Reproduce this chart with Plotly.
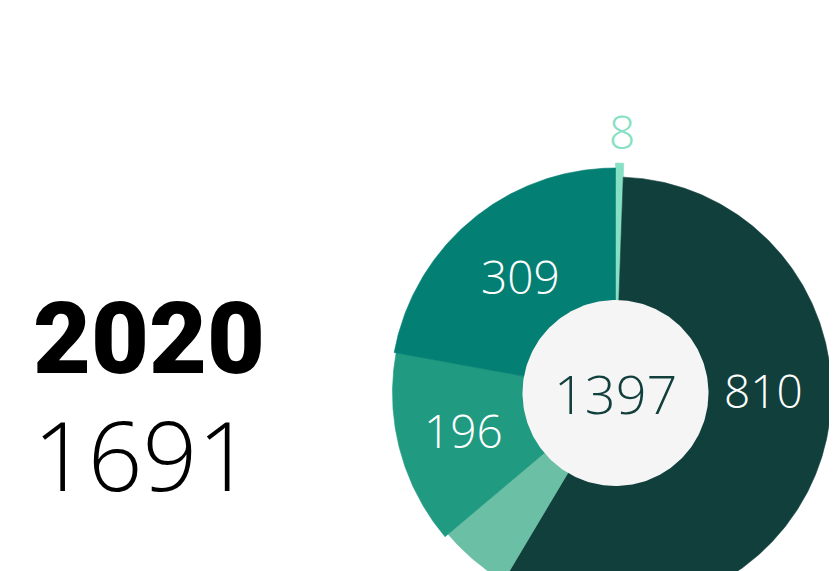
import numpy as np
import plotly.graph_objects as go

# ---- data ----
categories = ["A", "B", "C", "D", "E"]
values = [8, 810, 74, 196, 309]
total_label = "1397"
year_label = "2020"
year_value = "1691"

# ---- styles ----
colors = ["#86e0c3", "#113f3c", "#6bbfa5", "#209a80", "#037f73"]
outer_r = [230, 216, 219, 223, 225]
label_colors = ["#86e0c3", "#ffffff", "#ffffff", "#ffffff", "#ffffff"]
label_show = [True, True, False, True, True]
label_r = [259, 148, 150, 157, 149]
label_angle_override = {1: 90.0, 0: 1.5}
LABEL_DY = 3
HOLE_R = 93
W, H = 837, 571
OFF = 8  # page body margin
CX, CY = 615.5 - OFF, 393 - OFF  # pixel centre of the donut within the figure

fig = go.Figure()

vals = np.array(values, dtype=float)
ends = np.cumsum(vals) / vals.sum() * 360.0
starts = np.concatenate([[0.0], ends[:-1]])

def pt(r, deg):
    a = np.deg2rad(deg)
    return r * np.sin(a), r * np.cos(a)

for i, v in enumerate(values):
    th = np.linspace(starts[i], ends[i], max(4, int((ends[i] - starts[i]) * 2)))
    xo, yo = pt(outer_r[i], th)
    xi, yi = pt(HOLE_R - 2, th[::-1])
    xs = np.concatenate([xo, xi, xo[:1]])
    ys = np.concatenate([yo, yi, yo[:1]])
    fig.add_trace(go.Scatter(x=xs, y=ys, fill="toself", mode="lines",
                             line=dict(width=0.6, color=colors[i]),
                             fillcolor=colors[i], hoverinfo="skip",
                             showlegend=False))

# centre disc
thc = np.linspace(0, 360, 241)
xc, yc = pt(HOLE_R, thc)
fig.add_trace(go.Scatter(x=xc, y=yc, fill="toself", mode="lines",
                         line=dict(width=0, color="#f5f5f5"),
                         fillcolor="#f5f5f5", hoverinfo="skip", showlegend=False))

font_light = "Open Sans"
annotations = []
for i, v in enumerate(values):
    if not label_show[i]:
        continue
    ang = label_angle_override.get(i, (starts[i] + ends[i]) / 2)
    lx, ly = pt(label_r[i], ang)
    annotations.append(dict(x=lx, y=ly + LABEL_DY, xref="x", yref="y", text=str(v),
                            showarrow=False, xanchor="center", yanchor="middle",
                            font=dict(family=font_light, size=46, color=label_colors[i], weight=300)))

annotations.append(dict(x=0, y=-3 + LABEL_DY, xref="x", yref="y", text=total_label, showarrow=False,
                        xanchor="center", yanchor="middle",
                        font=dict(family=font_light, size=54, color="#113f3c", weight=300)))

annotations.append(dict(x=(148.7 - OFF) / W, y=1 - (338.7 - OFF) / H, xref="paper", yref="paper",
                        text=year_label, showarrow=False, xanchor="center", yanchor="middle",
                        font=dict(family="Roboto", size=100, color="#000000", weight=900)))
annotations.append(dict(x=(142.5 - OFF) / W, y=1 - (453 - OFF) / H, xref="paper", yref="paper",
                        text=year_value, showarrow=False, xanchor="center", yanchor="middle",
                        font=dict(family=font_light, size=96, color="#000000", weight=300)))

fig.update_layout(
    width=W, height=H,
    margin=dict(l=0, r=0, t=0, b=0),
    paper_bgcolor="#ffffff", plot_bgcolor="#ffffff",
    xaxis=dict(range=[-CX, W - CX], visible=False, fixedrange=True),
    yaxis=dict(range=[-(H - CY), CY], visible=False, fixedrange=True),
    annotations=annotations,
    showlegend=False,
)

fig.write_html("out.html")
